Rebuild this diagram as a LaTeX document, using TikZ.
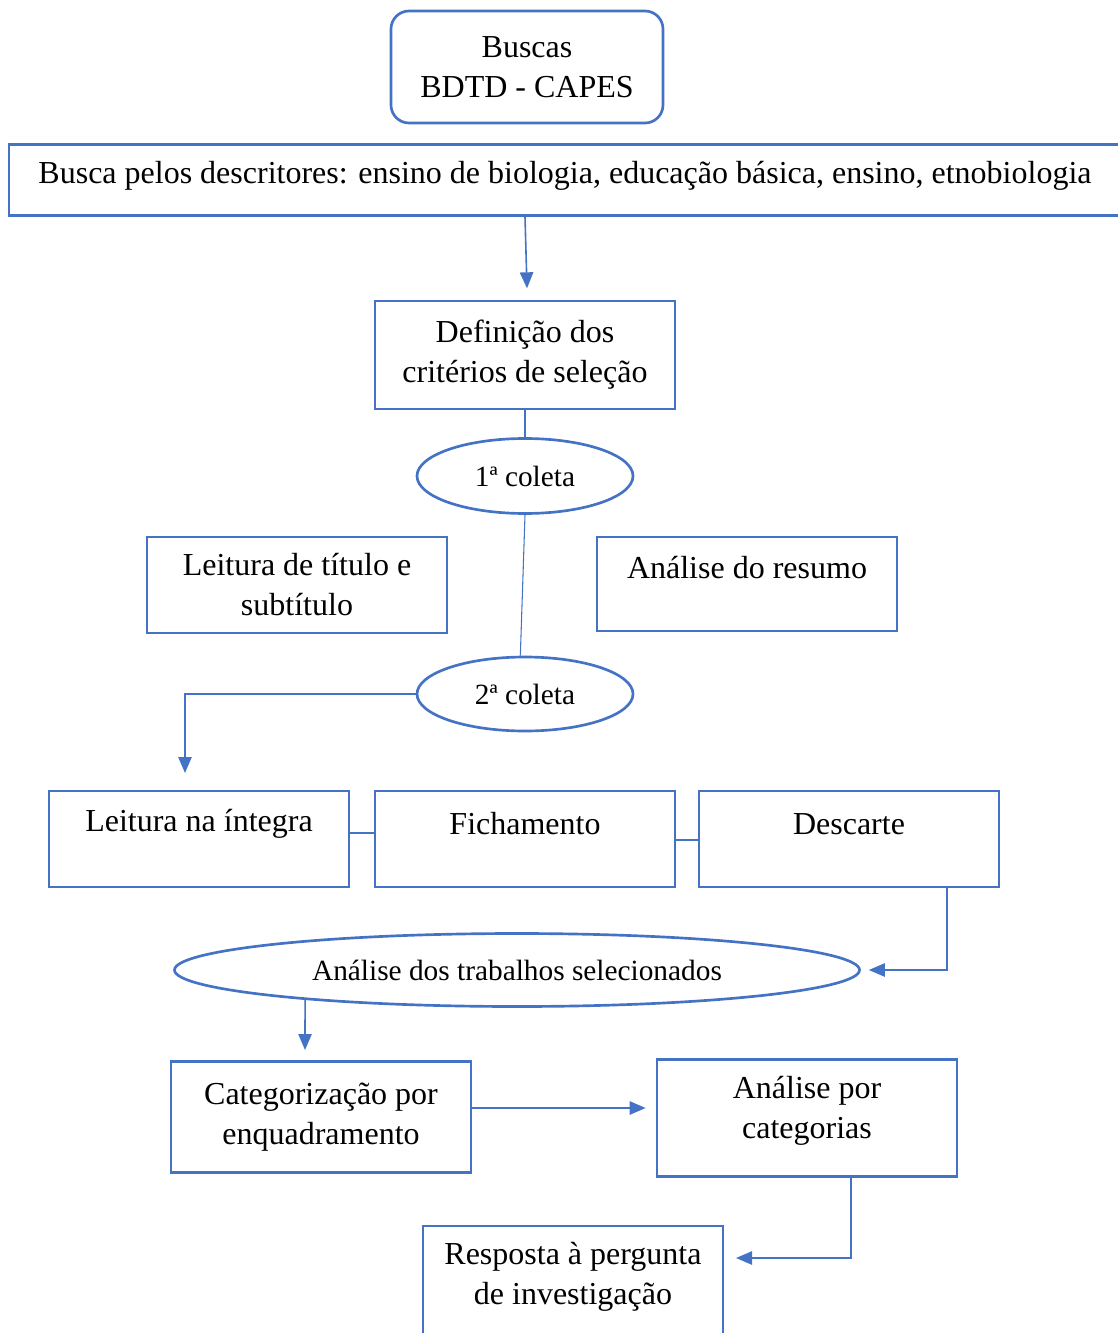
\documentclass[tikz,border=0pt]{standalone}
\usepackage{fontspec}
\setmainfont{Liberation Serif}
\usetikzlibrary{shapes.geometric,arrows.meta,calc}
\definecolor{bl}{RGB}{68,114,196}
\newcommand{\boxfont}{\fontsize{24}{30}\selectfont}
\newcommand{\ellfont}{\fontsize{22}{26}\selectfont}
\tikzset{
  box/.style={draw=bl, line width=2pt, rectangle, minimum width=225pt, inner sep=0pt, align=center, font=\boxfont, text=black},
  txt/.style={inner sep=0pt, align=center, font=\boxfont, text=black},
  ell/.style={draw=bl, line width=2pt, ellipse, inner sep=0pt, font=\ellfont, text=black},
  thin/.style={draw=bl, line width=0.8pt},
  arr/.style={draw=bl, line width=1.2pt, -{Triangle[length=12pt,width=10pt]}}
}
\begin{document}
\begin{tikzpicture}[x=0.75pt,y=-0.75pt]
\useasboundingbox (0,0) rectangle (1117,1333);
% nodes
\node[box, rounded corners=13.5pt, minimum width=204pt, minimum height=84pt] (buscas) at (527,67) {Buscas\\BDTD - CAPES};
\node[box, minimum width=834pt, minimum height=53.25pt] (desc) at (565,180) {};
\node[txt] (desct) at (565,176) {Busca pelos descritores: ensino de biologia, educação básica, ensino, etnobiologia};
\node[box, minimum height=81pt] (def) at (525,355) {Definição dos\\critérios de seleção};
\node[ell, minimum width=162pt, minimum height=56.25pt] (c1) at (525,476) {1ª coleta};
\node[box, minimum height=72pt] (lt) at (297,585) {Leitura de título e\\subtítulo};
\node[box, minimum height=70.5pt] (ar) at (747,584) {};
\node[txt] (art) at (747,568) {Análise do resumo};
\node[ell, minimum width=162pt, minimum height=55.5pt] (c2) at (525,694) {2ª coleta};
\node[box, minimum height=72pt] (li) at (199,839) {};
\node[txt] (lit) at (199,824) {Leitura na íntegra};
\node[box, minimum height=72pt] (fi) at (525,839) {};
\node[txt] (fit) at (525,824) {Fichamento};
\node[box, minimum height=72pt] (de) at (849,839) {};
\node[txt] (det) at (849,824) {Descarte};
\node[ell, minimum width=513.75pt, minimum height=54.75pt] (an) at (517,970) {Análise dos trabalhos selecionados};
\node[box, minimum height=83.25pt] (cat) at (321,1117) {Categorização por\\enquadramento};
\node[box, minimum height=87.75pt] (apc) at (807,1118) {};
\node[txt] (apct) at (807,1111) {Análise por\\categorias};
\node[box, minimum height=87pt] (resp) at (573,1284) {};
\node[txt] (respt) at (573,1277) {Resposta à pergunta\\de investigação};
% coordinates
\coordinate (k1) at (185,773);
\coordinate (k2) at (305,1050);
\coordinate (k3) at (736,1258);
% connectors
\draw[arr] (desc.south -| def.north) -- ($(def.north)+(1.5pt,8.5pt)$);
\draw[thin] (def.south) -- (c1.north);
\draw[thin] (c1.south) -- ($(c2.north)+(-3.5pt,0)$);
\draw[arr] (c2.west) -| (k1);
\draw[thin] ($(li.east)+(0,4.5pt)$) -- ($(fi.west)+(0,4.5pt)$);
\draw[thin] ($(fi.east)+(0,-0.75pt)$) -- ($(de.west)+(0,-0.75pt)$);
\draw[arr] ($(de.south)+(73.5pt,0)$) |- ($(an.east)+(6pt,0)$);
\draw[arr] (an.188) -- (k2);
\draw[arr] ($(cat.east)+(0,6.75pt)$) -- ($(cat.east -| apc.west)+(-7.5pt,6.75pt)$);
\draw[arr] ($(apc.south)+(33pt,0)$) |- (k3);
\end{tikzpicture}
\end{document}
